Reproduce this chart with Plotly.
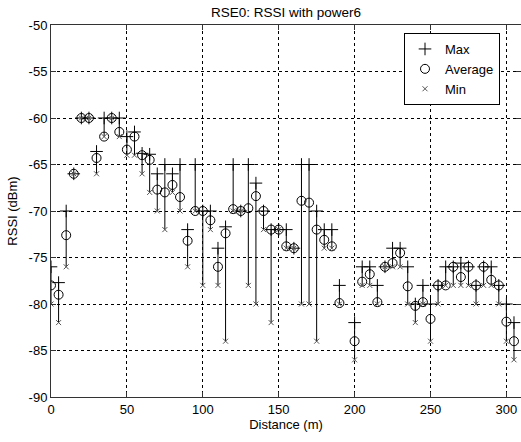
import plotly.graph_objects as go

distance = [0, 5, 10, 15, 20, 25, 30, 35, 40, 45,
            50, 55, 60, 65, 70, 75, 80, 85, 90, 95,
            100, 105, 110, 115, 120, 125, 130, 135, 140, 145,
            150, 155, 160, 165, 170, 175, 180, 185, 190,
            200, 205, 210, 215, 220, 225, 230, 235, 240, 245,
            250, 255, 260, 265, 270, 275, 280, 285, 290, 295,
            300, 305]

rssi_max = [-76, -77.7, -70, -66, -60, -60, -63.6, -60, -60, -60,
            -62, -61.5, -63.8, -63.9, -66, -65, -66, -65, -72, -65,
            -70, -70, -74, -71.7, -65, -70, -65, -67, -70, -72,
            -72, -72, -74, -65, -65, -70, -72, -72, -78,
            -82, -76, -76, -78, -76, -74, -74, -76, -80, -78,
            -80, -78, -76, -76, -75.6, -76, -78, -76, -76, -78,
            -80, -82]

rssi_avg = [-78, -79, -72.6, -66, -60, -60, -64.3, -62, -60, -61.5,
            -63.4, -62, -64, -64.5, -67.7, -68, -67.2, -68.5, -73.2, -70,
            -70, -71, -76, -72.4, -69.8, -70, -69.7, -68.4, -70, -72,
            -72, -73.8, -74, -68.9, -69.1, -72, -73.1, -73.8, -79.9,
            -84, -77.6, -76.8, -79.8, -76, -75.6, -74.5, -78.1, -80.2, -79.8,
            -81.6, -78, -78, -76, -77.1, -76, -78, -76, -77.4, -78,
            -81.9, -84]

rssi_min = [-80, -82, -76, -66, -60, -60, -66, -62, -60, -62,
            -64, -64, -66, -68, -70, -72, -68, -70, -76, -70,
            -78, -72, -78, -84, -70, -70, -78, -80, -72, -82,
            -72, -74, -74, -80, -80, -84, -74, -74, -80,
            -86, -78, -78, -80, -76, -76, -76, -80, -82, -80,
            -84, -80, -78, -78, -78, -78, -80, -78, -78, -80,
            -84, -86]

x_ticks = [0, 50, 100, 150, 200, 250, 300]
y_ticks = [-50, -55, -60, -65, -70, -75, -80, -85, -90]

FONT = "Liberation Sans, Arial, sans-serif"

# vertical min-max lines
lx, ly = [], []
for d, hi, lo in zip(distance, rssi_max, rssi_min):
    lx += [d, d, None]
    ly += [lo, hi, None]

fig = go.Figure()
fig.add_trace(go.Scatter(x=lx, y=ly, mode="lines", line=dict(color="black", width=1),
                         showlegend=False, hoverinfo="skip"))
fig.add_trace(go.Scatter(x=distance, y=rssi_max, mode="markers", name="Max",
                         marker=dict(symbol="cross-thin", size=9, color="black",
                                     line=dict(color="black", width=1))))
fig.add_trace(go.Scatter(x=distance, y=rssi_avg, mode="markers", name="Average",
                         marker=dict(symbol="circle-open", size=9, color="black",
                                     line=dict(color="black", width=1))))
fig.add_trace(go.Scatter(x=distance, y=rssi_min, mode="markers", name="Min",
                         marker=dict(symbol="x-thin", size=5, color="#555",
                                     line=dict(color="#555", width=1))))

axis_common = dict(
    showgrid=True, gridcolor="black", gridwidth=1, griddash="3px,3px",
    zeroline=False, showline=True, linecolor="#333", linewidth=1,
    mirror="ticks", ticks="inside", ticklen=5, tickcolor="#333",
    tickfont=dict(family=FONT, size=13, color="black"),
    automargin=False,
)

fig.update_layout(
    width=521, height=442,
    margin=dict(l=51, r=0, t=25, b=45),
    paper_bgcolor="white", plot_bgcolor="white",
    font=dict(family=FONT, size=13, color="black"),
    title=dict(text="RSE0: RSSI with power6", x=0.5, xref="paper", xanchor="center",
               y=1 - 12 / 442, yref="container", yanchor="middle",
               font=dict(family=FONT, size=13.5, color="black")),
    xaxis=dict(range=[0, 470 / 1.518], tickvals=x_ticks, ticktext=[str(v) for v in x_ticks],
               title=dict(text="Distance (m)", standoff=4,
                          font=dict(family=FONT, size=13, color="black")),
               **axis_common),
    yaxis=dict(range=[-90, -50], tickvals=y_ticks, ticktext=[str(v) for v in y_ticks],
               title=dict(text="RSSI (dBm)", standoff=8,
                          font=dict(family=FONT, size=13, color="black")),
               **axis_common),
    legend=dict(x=(404 - 51) / 470, y=(397 - 33) / 372, xanchor="left", yanchor="top",
                bgcolor="white", bordercolor="black", borderwidth=1,
                font=dict(family=FONT, size=13, color="black"),
                tracegroupgap=0, itemwidth=30),
    showlegend=True,
)

fig.write_html("out.html", config={"displayModeBar": False},
               post_script="document.body.style.margin='0';")
